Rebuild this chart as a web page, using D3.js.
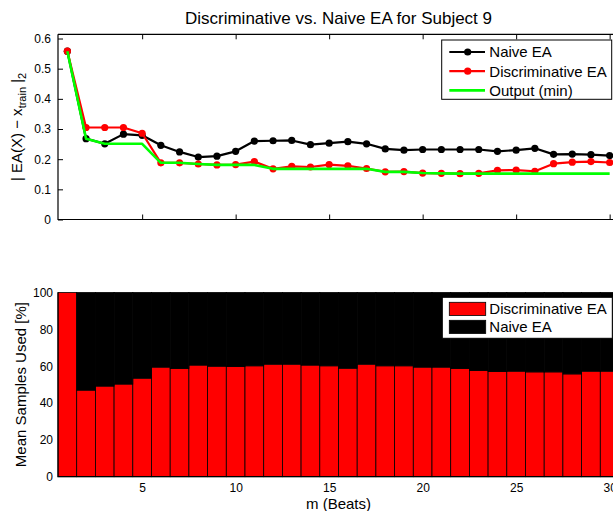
<!DOCTYPE html>
<html>
<head>
<meta charset="utf-8">
<script src="https://cdn.jsdelivr.net/npm/d3@7"></script>
<style>
  html, body { margin: 0; padding: 0; background: #fff; overflow: hidden; }
  svg { display: block; font-family: "Liberation Sans", Arial, Helvetica, sans-serif; }
</style>
</head>
<body>
<svg id="fig" width="613" height="511"></svg>
<script>
// Beat counts m = 1..30
const beats = d3.range(1, 31);

// Error norms per method (upper panel)
const naiveErr = [0.558, 0.268, 0.251, 0.283, 0.279, 0.246, 0.224, 0.207, 0.210, 0.226,
                  0.260, 0.261, 0.262, 0.248, 0.253, 0.258, 0.251, 0.234, 0.230, 0.232,
                  0.232, 0.232, 0.232, 0.226, 0.230, 0.236, 0.216, 0.217, 0.215, 0.212];
const discErr  = [0.558, 0.305, 0.305, 0.305, 0.286, 0.188, 0.188, 0.184, 0.181, 0.182,
                  0.192, 0.168, 0.176, 0.174, 0.182, 0.178, 0.169, 0.158, 0.159, 0.154,
                  0.153, 0.152, 0.153, 0.163, 0.164, 0.160, 0.185, 0.190, 0.192, 0.189];
const outputMin = [0.558, 0.268, 0.251, 0.251, 0.251, 0.188, 0.188, 0.184, 0.181, 0.181,
                   0.181, 0.168, 0.168, 0.168, 0.168, 0.168, 0.168, 0.158, 0.158, 0.154,
                   0.153, 0.152, 0.152, 0.152, 0.152, 0.152, 0.152, 0.152, 0.152, 0.152];

// Share of samples used by each method, in percent (lower panel, stacked)
const discPct  = [100, 47.0, 49.2, 50.3, 53.5, 59.5, 58.8, 60.6, 60.0, 59.8,
                  60.2, 61.1, 61.1, 60.6, 60.2, 58.9, 61.1, 60.2, 60.2, 59.5,
                  59.5, 58.8, 57.7, 57.1, 57.3, 56.9, 56.9, 55.8, 57.3, 57.3];
const naivePct = [0, 53.0, 50.8, 49.7, 46.5, 40.5, 41.2, 39.4, 40.0, 40.2,
                  39.8, 38.9, 38.9, 39.4, 39.8, 41.1, 38.9, 39.8, 39.8, 40.5,
                  40.5, 41.2, 42.3, 42.9, 42.7, 43.1, 43.1, 44.2, 42.7, 42.7];

// Tick values
const xTicks = [5, 10, 15, 20, 25, 30];
const errTicks = [0, 0.1, 0.2, 0.3, 0.4, 0.5, 0.6];
const pctTicks = [0, 20, 40, 60, 80, 100];

const svg = d3.select("#fig");
const TICK_FONT = 12, LABEL_FONT = 15, LEGEND_FONT = 15;

// ---------- upper panel ----------
const upper = { left: 58, right: 619, top: 34.3, bottom: 219.5 };
const x1 = d3.scaleLinear().domain([0.5, 30.5]).range([upper.left, upper.right]);
const y1 = d3.scaleLinear().domain([0, 0.614]).range([upper.bottom, upper.top]);

svg.append("text")
  .attr("x", (upper.left + upper.right) / 2).attr("y", 24)
  .attr("text-anchor", "middle").attr("font-size", 17).attr("fill", "#000")
  .text("Discriminative vs. Naive EA for Subject 9");

const gTop = svg.append("g");
// frame: bottom, left, top
gTop.append("path")
  .attr("d", `M${upper.left},${upper.top}H${upper.right}M${upper.left},${upper.top}V${upper.bottom}H${upper.right}`)
  .attr("fill", "none").attr("stroke", "#000").attr("stroke-width", 1.2);

// inward ticks
gTop.append("g").attr("transform", `translate(0,${upper.bottom})`)
  .call(d3.axisBottom(x1).tickValues(xTicks).tickSize(-5).tickFormat(""))
  .call(g => g.select(".domain").remove());
gTop.append("g").attr("transform", `translate(0,${upper.top})`)
  .call(d3.axisTop(x1).tickValues(xTicks).tickSize(-5).tickFormat(""))
  .call(g => g.select(".domain").remove());
gTop.append("g").attr("transform", `translate(${upper.left},0)`)
  .call(d3.axisLeft(y1).tickValues(errTicks).tickSize(-5).tickPadding(7)
        .tickFormat(d => d === 0 ? "0" : d3.format(".1f")(d)))
  .call(g => g.select(".domain").remove())
  .call(g => g.selectAll("text").attr("font-size", TICK_FONT)
        .attr("font-family", "Liberation Sans, Arial, sans-serif").attr("fill", "#000"));
gTop.selectAll(".tick line").attr("stroke", "#000");

// y label: | EA(X) − x_train |_2
const yl = svg.append("text")
  .attr("transform", `translate(22,${(upper.top + upper.bottom) / 2}) rotate(-90)`)
  .attr("text-anchor", "middle").attr("font-size", LABEL_FONT).attr("fill", "#000");
yl.append("tspan").text("| EA(X) \u2212 x");
yl.append("tspan").attr("font-size", 11).attr("dy", 4).text("train");
yl.append("tspan").attr("dy", -4).text(" |");
yl.append("tspan").attr("font-size", 11).attr("dy", 4).text("2");

const series = [
  { name: "Naive EA", values: naiveErr, color: "#000000", marker: true, width: 2.2 },
  { name: "Discriminative EA", values: discErr, color: "#ff0000", marker: true, width: 2.2 },
  { name: "Output (min)", values: outputMin, color: "#00ff00", marker: false, width: 2.6 }
];

const line = d3.line().x((d, i) => x1(beats[i])).y(d => y1(d));
const plot = svg.append("g");
series.forEach(s => {
  plot.append("path").datum(s.values)
    .attr("d", line).attr("fill", "none")
    .attr("stroke", s.color).attr("stroke-width", s.width).attr("stroke-linejoin", "round");
  if (s.marker) {
    plot.append("g").selectAll("circle").data(s.values).join("circle")
      .attr("cx", (d, i) => x1(beats[i])).attr("cy", d => y1(d))
      .attr("r", 3.6).attr("fill", s.color);
  }
});

// upper legend
const lg = svg.append("g").attr("transform", "translate(441.7,40)");
lg.append("rect").attr("width", 170).attr("height", 59.3)
  .attr("fill", "#fff").attr("stroke", "#000").attr("stroke-width", 1);
series.forEach((s, i) => {
  const yy = 12 + i * 19.2;
  lg.append("line").attr("x1", 7.6).attr("x2", 43.3).attr("y1", yy).attr("y2", yy)
    .attr("stroke", s.color).attr("stroke-width", s.width);
  if (s.marker) lg.append("circle").attr("cx", 26).attr("cy", yy).attr("r", 3.6).attr("fill", s.color);
  lg.append("text").attr("x", 47.6).attr("y", yy).attr("dy", "0.36em")
    .attr("font-size", LEGEND_FONT).attr("fill", "#000").text(s.name);
});

// ---------- lower panel ----------
const lower = { left: 58, right: 619, top: 292.5, bottom: 476.7 };
const x2 = d3.scaleLinear().domain([0.5, 30.5]).range([lower.left, lower.right]);
const y2 = d3.scaleLinear().domain([0, 100]).range([lower.bottom, lower.top]);

const stackRows = beats.map((m, i) => ({ m, disc: discPct[i], naive: naivePct[i] }));
const stacked = d3.stack().keys(["disc", "naive"])(stackRows);
const barColors = { disc: "#ff0000", naive: "#000000" };

const gBars = svg.append("g");
stacked.forEach(layer => {
  gBars.append("g").selectAll("rect").data(layer).join("rect")
    .attr("x", d => x2(d.data.m - 0.5)).attr("width", x2(1.5) - x2(0.5))
    .attr("y", d => y2(d[1])).attr("height", d => y2(d[0]) - y2(d[1]))
    .attr("fill", barColors[layer.key]).attr("stroke", "#000").attr("stroke-width", 0.8);
});

// lower axes
svg.append("path")
  .attr("d", `M${lower.left},${lower.top}V${lower.bottom}H${lower.right}`)
  .attr("fill", "none").attr("stroke", "#000").attr("stroke-width", 1.2);
svg.append("g").attr("transform", `translate(0,${lower.bottom})`)
  .call(d3.axisBottom(x2).tickValues(xTicks).tickSize(0).tickPadding(7))
  .call(g => g.select(".domain").remove())
  .call(g => g.selectAll("text").attr("font-size", TICK_FONT)
        .attr("font-family", "Liberation Sans, Arial, sans-serif").attr("fill", "#000"));
svg.append("g").attr("transform", `translate(${lower.left},0)`)
  .call(d3.axisLeft(y2).tickValues(pctTicks).tickSize(0).tickPadding(5))
  .call(g => g.select(".domain").remove())
  .call(g => g.selectAll("text").attr("font-size", TICK_FONT)
        .attr("font-family", "Liberation Sans, Arial, sans-serif").attr("fill", "#000"));

svg.append("text")
  .attr("x", (lower.left + lower.right) / 2).attr("y", 509)
  .attr("text-anchor", "middle").attr("font-size", LABEL_FONT).attr("fill", "#000")
  .text("m (Beats)");
svg.append("text")
  .attr("transform", `translate(26,${(lower.top + lower.bottom) / 2}) rotate(-90)`)
  .attr("text-anchor", "middle").attr("font-size", LABEL_FONT).attr("fill", "#000")
  .text("Mean Samples Used [%]");

// lower legend
const legendBars = [
  { name: "Discriminative EA", color: "#ff0000" },
  { name: "Naive EA", color: "#000000" }
];
const lg2 = svg.append("g").attr("transform", "translate(442.3,297.3)");
lg2.append("rect").attr("width", 170).attr("height", 41)
  .attr("fill", "#fff").attr("stroke", "#000").attr("stroke-width", 1);
legendBars.forEach((b, i) => {
  const yy = 5 + i * 18;
  lg2.append("rect").attr("x", 7).attr("y", yy).attr("width", 36.4).attr("height", 13.2)
    .attr("fill", b.color).attr("stroke", "#000").attr("stroke-width", 0.8);
  lg2.append("text").attr("x", 47).attr("y", yy + 6.6).attr("dy", "0.36em")
    .attr("font-size", LEGEND_FONT).attr("fill", "#000").text(b.name);
});
</script>
</body>
</html>
